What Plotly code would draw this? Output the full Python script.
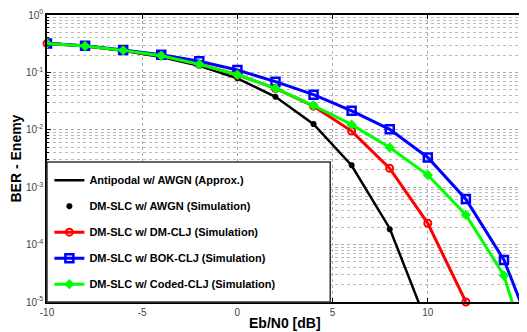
import plotly.graph_objects as go

ebn0 = [-10, -8, -6, -4, -2, 0, 2, 4, 6, 8, 10, 12, 14, 16]

antipodal_approx = [0.327, 0.2867, 0.2392, 0.186, 0.1306, 0.0786, 0.0375, 0.0125,
                    0.00239, 1.91e-4, 3.87e-6]
awgn_sim = [0.325, 0.287, 0.239, 0.186, 0.131, 0.079, 0.0376, 0.0126, 0.00242, 1.85e-4]
dm_clj = [0.32, 0.288, 0.242, 0.195, 0.138, 0.091, 0.0525, 0.0258, 0.0095, 0.00213,
          2.35e-4, 1.0e-5]
bok_clj = [0.32, 0.29, 0.245, 0.203, 0.156, 0.11, 0.069, 0.041, 0.0214, 0.0102,
           0.0033, 6.2e-4, 5.4e-5, 1.1e-6]
coded_clj = [0.32, 0.288, 0.242, 0.195, 0.138, 0.091, 0.0528, 0.0265, 0.0123, 0.0049,
             0.00163, 3.3e-4, 2.9e-5, 2e-7]

x_ticks = [-10, -5, 0, 5, 10, 15]
y_decades = [-5, -4, -3, -2, -1, 0]

fig = go.Figure()
fig.add_trace(go.Scatter(x=ebn0[:len(antipodal_approx)], y=antipodal_approx, mode="lines",
                         line=dict(color="black", width=2.5),
                         name="Antipodal w/ AWGN (Approx.)", legendgroup="a"))
fig.add_trace(go.Scatter(x=ebn0[:len(awgn_sim)], y=awgn_sim, mode="markers",
                         marker=dict(symbol="asterisk-open", size=5, color="black",
                                     line=dict(color="black", width=2)),
                         name="DM-SLC w/ AWGN (Simulation)", legendgroup="b"))
fig.add_trace(go.Scatter(x=ebn0[:len(dm_clj)], y=dm_clj, mode="lines+markers",
                         line=dict(color="#ff0000", width=3),
                         marker=dict(symbol="circle-open", size=7, color="#ff0000",
                                     line=dict(color="#ff0000", width=2)),
                         name="DM-SLC w/ DM-CLJ (Simulation)", legendgroup="c",
                         cliponaxis=False))
fig.add_trace(go.Scatter(x=ebn0[:len(bok_clj)], y=bok_clj, mode="lines+markers",
                         line=dict(color="#0000ff", width=3),
                         marker=dict(symbol="square-open", size=8, color="#0000ff",
                                     line=dict(color="#0000ff", width=2.5)),
                         name="DM-SLC w/ BOK-CLJ (Simulation)", legendgroup="d"))
fig.add_trace(go.Scatter(x=ebn0[:len(coded_clj)], y=coded_clj, mode="lines+markers",
                         line=dict(color="#00ff00", width=3),
                         marker=dict(symbol="diamond", size=8, color="#00ff00"),
                         name="DM-SLC w/ Coded-CLJ (Simulation)", legendgroup="e"))

minor_vals = [m * 10 ** d for d in range(-5, 0) for m in range(2, 10)]

fig.add_shape(type="rect", xref="paper", yref="paper", x0=0, x1=0.595, y0=0, y1=0.488,
              fillcolor="white", line=dict(color="#333333", width=1.5), layer="above")

fig.add_annotation(text="<b>Eb/N0 [dB]</b>", xref="paper", yref="paper", x=0.5, y=0,
                   yshift=-11, xanchor="center", yanchor="top", showarrow=False,
                   font=dict(size=14, color="black"))
fig.add_annotation(text="<b>BER - Enemy</b>", xref="paper", yref="paper", x=0, y=0.5,
                   xshift=-22, xanchor="right", yanchor="middle", textangle=-90,
                   showarrow=False, font=dict(size=14, color="black"))

fig.update_layout(
    width=519, height=324,
    margin=dict(l=39, r=4, t=7, b=30),
    paper_bgcolor="white", plot_bgcolor="white",
    font=dict(family="Arial, Liberation Sans, sans-serif", color="black"),
    showlegend=True,
    legend=dict(x=0.005, y=0.475, xanchor="left", yanchor="top",
                bgcolor="rgba(0,0,0,0)", borderwidth=0,
                font=dict(size=11, family="Arial, Liberation Sans, sans-serif", weight="bold"),
                tracegroupgap=7, itemwidth=30),
)
fig.update_xaxes(
    range=[-10, 15], tickvals=x_ticks, ticktext=[str(v) for v in x_ticks],
    ticks="inside", ticklen=4, tickcolor="black",
    showline=True, linecolor="black", linewidth=1.5, mirror="ticks",
    showgrid=True, gridcolor="#aaaaaa", griddash="dot", gridwidth=1,
    zeroline=False, automargin=False,
    tickfont=dict(size=10, color="#444444"),
)
fig.update_yaxes(
    type="log", range=[-5, 0],
    tickvals=[10 ** d for d in y_decades],
    ticktext=["10<sup>%d</sup>" % d for d in y_decades],
    ticks="inside", ticklen=4, tickcolor="black",
    showline=True, linecolor="black", linewidth=1.5, mirror="ticks",
    showgrid=True, gridcolor="#aaaaaa", griddash="dot", gridwidth=1,
    zeroline=False, automargin=False,
    tickfont=dict(size=10, color="#444444"),
    minor=dict(tickmode="array", tickvals=minor_vals, ticks="inside", ticklen=2,
               showgrid=True, gridcolor="#bbbbbb", griddash="dot", gridwidth=1),
)

fig.write_html("out.html")
